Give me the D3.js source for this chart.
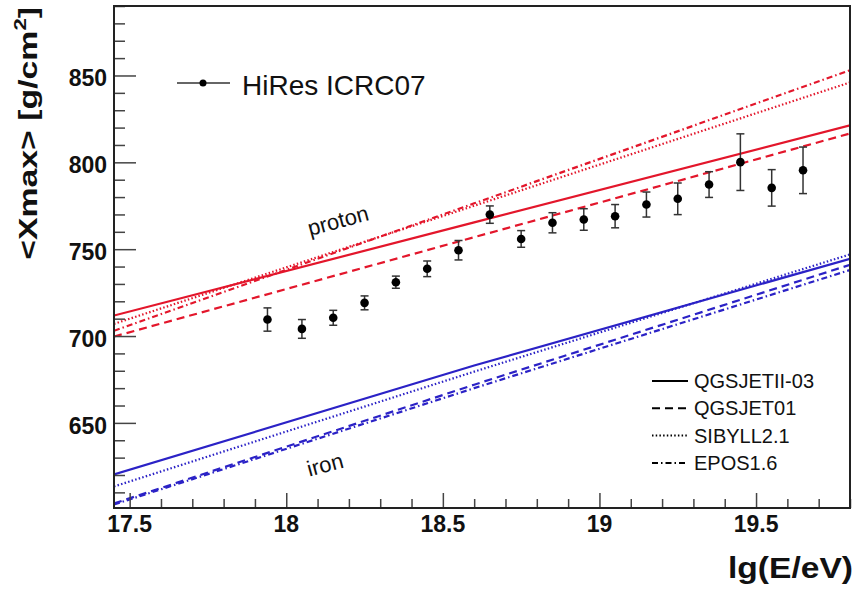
<!DOCTYPE html>
<html>
<head>
<meta charset="utf-8">
<script src="https://cdn.jsdelivr.net/npm/d3@7"></script>
<style>
    body { margin: 0; background: #fff; }
    svg { display: block; font-family: "Liberation Sans", Arial, Helvetica, sans-serif; }
</style>
</head>
<body>
<svg width="856" height="590"></svg>
<script>
// HiRes ICRC07 <Xmax> points
var lgE = [17.94, 18.05, 18.15, 18.25, 18.35, 18.45, 18.55, 18.65, 18.75, 18.85, 18.95, 19.05, 19.15, 19.25, 19.35, 19.45, 19.55, 19.65];
var xmax = [709.5, 704.1, 710.5, 719.1, 731.0, 738.7, 749.4, 769.9, 755.9, 765.2, 767.1, 769.0, 775.7, 779.0, 787.2, 800.1, 785.3, 795.4];
var xmaxErr = [6.7, 5.4, 4.3, 4.0, 3.5, 4.5, 5.6, 5.0, 4.8, 5.8, 6.2, 6.7, 7.2, 9.1, 7.4, 16.3, 10.5, 13.4];

// model predictions (read at three energies)
var modelLgE = [17.45, 18.6, 19.8];
var modelNames = ["QGSJETII-03", "QGSJET01", "SIBYLL2.1", "EPOS1.6"];
var protonQII = [711.8, 765.4, 821.3];
var protonQ01 = [699.7, 756.9, 816.6];
var protonSib = [707.0, 775.0, 846.0];
var protonEpos = [703.0, 776.4, 853.0];
var ironQII = [620.3, 683.0, 744.5];
var ironQ01 = [603.6, 672.0, 741.0];
var ironSib = [613.4, 679.5, 747.0];
var ironEpos = [603.0, 670.0, 738.0];

var xTickLabels = [17.5, 18, 18.5, 19, 19.5];
var yTickLabels = [650, 700, 750, 800, 850];

var svg = d3.select("svg");
var pLeft = 114, pRight = 850, pTop = 6, pBottom = 508;
var red = "#e3162b", blue = "#2b22c6";
var dashes = ["none", "8,5", "1.5,2.2", "6,3,1.5,3"];

var x = d3.scaleLinear().domain([17.45, 19.8]).range([pLeft, pRight]);
var y = d3.scaleLinear().domain([601, 890]).range([pBottom, pTop]);

svg.append("clipPath").attr("id", "plotclip")
    .append("rect")
    .attr("x", pLeft).attr("y", pTop)
    .attr("width", pRight - pLeft).attr("height", pBottom - pTop);

// model lines
var models = [
    { vals: protonQII, color: red, dash: dashes[0] },
    { vals: protonQ01, color: red, dash: dashes[1] },
    { vals: protonSib, color: red, dash: dashes[2] },
    { vals: protonEpos, color: red, dash: dashes[3] },
    { vals: ironQII, color: blue, dash: dashes[0] },
    { vals: ironQ01, color: blue, dash: dashes[1] },
    { vals: ironSib, color: blue, dash: dashes[2] },
    { vals: ironEpos, color: blue, dash: dashes[3] }
];

var line = d3.line()
    .x(function (d) { return x(d[0]); })
    .y(function (d) { return y(d[1]); });

svg.append("g")
    .attr("clip-path", "url(#plotclip)")
    .selectAll("path")
    .data(models)
    .enter()
    .append("path")
    .attr("d", function (m) {
        return line(modelLgE.map(function (e, i) { return [e, m.vals[i]]; }));
    })
    .attr("fill", "none")
    .attr("stroke", function (m) { return m.color; })
    .attr("stroke-width", 2.2)
    .attr("stroke-dasharray", function (m) { return m.dash; });

// axes
var xAxis = d3.axisBottom(x)
    .tickValues(d3.range(17.5, 19.85, 0.1))
    .tickSize(0)
    .tickFormat("");
var gx = svg.append("g").attr("transform", "translate(0," + pBottom + ")").call(xAxis);
gx.select(".domain").remove();
gx.selectAll(".tick line")
    .attr("y2", function (d) { return Math.abs(d * 2 - Math.round(d * 2)) < 1e-6 ? -15 : -9; })
    .attr("stroke", "#444")
    .attr("stroke-width", 1.5);

var yAxis = d3.axisLeft(y)
    .tickValues(d3.range(610, 891, 10))
    .tickSize(0)
    .tickFormat("");
var gy = svg.append("g").attr("transform", "translate(" + pLeft + ",0)").call(yAxis);
gy.select(".domain").remove();
gy.selectAll(".tick line")
    .attr("x2", function (d) { return d % 50 === 0 ? 22 : 11; })
    .attr("stroke", "#444")
    .attr("stroke-width", 1.5);

svg.append("g").selectAll("text")
    .data(xTickLabels)
    .enter()
    .append("text")
    .attr("x", function (d) { return x(d); })
    .attr("y", 532)
    .attr("text-anchor", "middle")
    .attr("font-size", 23)
    .attr("font-weight", "bold")
    .attr("fill", "#111")
    .text(function (d) { return d; });

svg.append("g").selectAll("text")
    .data(yTickLabels)
    .enter()
    .append("text")
    .attr("x", 107)
    .attr("y", function (d) { return y(d) + 11; })
    .attr("text-anchor", "end")
    .attr("font-size", 23)
    .attr("font-weight", "bold")
    .attr("fill", "#111")
    .text(function (d) { return d; });

// frame
svg.append("rect")
    .attr("x", pLeft).attr("y", pTop)
    .attr("width", pRight - pLeft).attr("height", pBottom - pTop)
    .attr("fill", "none")
    .attr("stroke", "#222")
    .attr("stroke-width", 2);

// data points
var pts = svg.append("g");
pts.selectAll("line.err")
    .data(lgE)
    .enter()
    .append("line")
    .attr("class", "err")
    .attr("x1", function (d) { return x(d); })
    .attr("x2", function (d) { return x(d); })
    .attr("y1", function (d, i) { return y(xmax[i] - xmaxErr[i]); })
    .attr("y2", function (d, i) { return y(xmax[i] + xmaxErr[i]); })
    .attr("stroke", "#333")
    .attr("stroke-width", 1.5);
[-1, 1].forEach(function (s) {
    pts.selectAll("line.cap" + (s + 1))
        .data(lgE)
        .enter()
        .append("line")
        .attr("class", "cap" + (s + 1))
        .attr("x1", function (d) { return x(d) - 4; })
        .attr("x2", function (d) { return x(d) + 4; })
        .attr("y1", function (d, i) { return y(xmax[i] + s * xmaxErr[i]); })
        .attr("y2", function (d, i) { return y(xmax[i] + s * xmaxErr[i]); })
        .attr("stroke", "#333")
        .attr("stroke-width", 1.5);
});
pts.selectAll("circle")
    .data(lgE)
    .enter()
    .append("circle")
    .attr("cx", function (d) { return x(d); })
    .attr("cy", function (d, i) { return y(xmax[i]); })
    .attr("r", 4.3)
    .attr("fill", "#000");

// labels on lines
svg.append("text")
    .attr("transform", "translate(340,228) rotate(-15)")
    .attr("text-anchor", "middle")
    .attr("font-size", 22)
    .attr("fill", "#111")
    .text("proton");
svg.append("text")
    .attr("transform", "translate(327,472) rotate(-15)")
    .attr("text-anchor", "middle")
    .attr("font-size", 22)
    .attr("fill", "#111")
    .text("iron");

// HiRes legend
svg.append("line")
    .attr("x1", 177).attr("x2", 230).attr("y1", 83).attr("y2", 83)
    .attr("stroke", "#333").attr("stroke-width", 1.5);
svg.append("circle").attr("cx", 203).attr("cy", 83).attr("r", 3.5).attr("fill", "#000");
svg.append("text")
    .attr("x", 242).attr("y", 95)
    .attr("font-size", 28)
    .attr("fill", "#111")
    .text("HiRes ICRC07");

// model legend
var leg = svg.append("g").selectAll("g")
    .data(modelNames)
    .enter()
    .append("g")
    .attr("transform", function (d, i) { return "translate(0," + (388 + i * 27.3) + ")"; });
leg.append("line")
    .attr("x1", 652).attr("x2", 688).attr("y1", -7).attr("y2", -7)
    .attr("stroke", "#000")
    .attr("stroke-width", 2)
    .attr("stroke-dasharray", function (d, i) { return dashes[i]; });
leg.append("text")
    .attr("x", 694)
    .attr("font-size", 20)
    .attr("fill", "#111")
    .text(function (d) { return d; });

// axis titles
svg.append("text")
    .attr("x", 853).attr("y", 578)
    .attr("text-anchor", "end")
    .attr("font-size", 30)
    .attr("font-weight", "bold")
    .attr("fill", "#111")
    .attr("textLength", 125)
    .attr("lengthAdjust", "spacingAndGlyphs")
    .text("lg(E/eV)");

var yt = svg.append("text")
    .attr("text-anchor", "end")
    .attr("font-size", 26)
    .attr("font-weight", "bold")
    .attr("fill", "#111");
yt.append("tspan").text("<Xmax> [g/cm");
yt.append("tspan").attr("font-size", 17).attr("dy", -11).text("2");
yt.append("tspan").attr("dy", 11).text("]");
var w = yt.node().getComputedTextLength();
yt.attr("transform", "translate(37,7) rotate(-90) scale(" + (253 / w) + ",1)");
</script>
</body>
</html>
